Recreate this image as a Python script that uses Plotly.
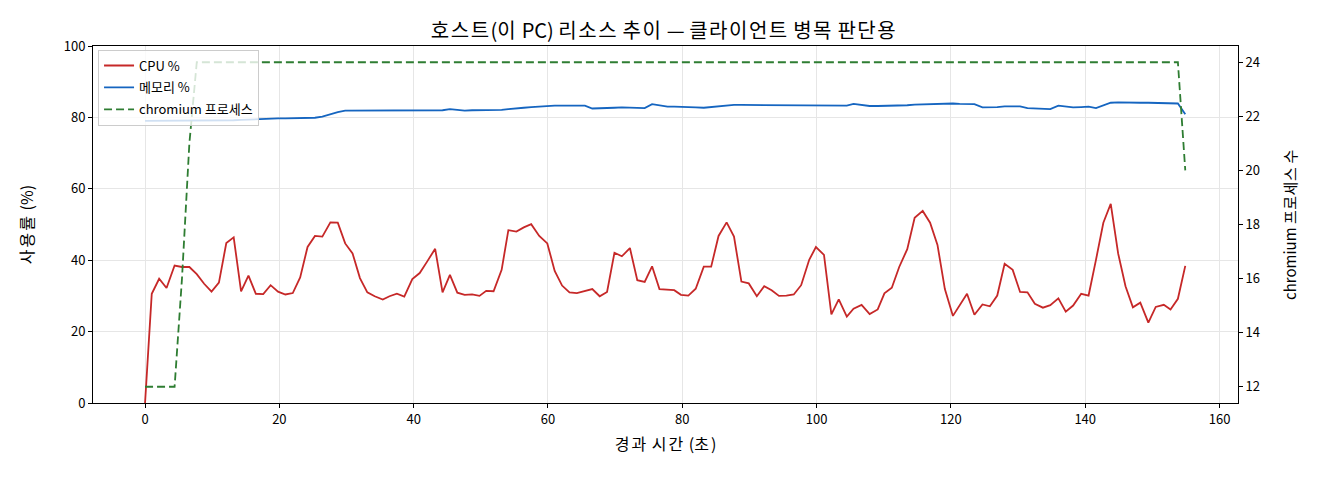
import re
import plotly.graph_objects as go

# 경과 시간 (초)
elapsed = [0.0, 1.0, 2.1, 3.2, 4.4, 5.5, 6.6, 7.7, 8.8, 9.9,
           11.0, 12.1, 13.2, 14.3, 15.4, 16.5, 17.6, 18.7, 19.8, 20.9,
           22.0, 23.1, 24.2, 25.3, 26.4, 27.6, 28.7, 29.8, 30.9, 32.0,
           33.1, 34.2, 35.4, 36.4, 37.5, 38.6, 39.8, 40.9, 42.0, 43.2,
           44.3, 45.4, 46.5, 47.6, 48.7, 49.8, 50.8, 51.9, 53.1, 54.1,
           55.3, 56.4, 57.5, 58.7, 59.9, 61.0, 62.1, 63.2, 64.3, 65.5,
           66.6, 67.7, 68.8, 69.9, 71.0, 72.2, 73.3, 74.4, 75.5, 76.6,
           77.8, 78.8, 79.8, 80.9, 82.0, 83.2, 84.3, 85.4, 86.6, 87.7,
           88.8, 89.9, 91.1, 92.2, 93.3, 94.4, 95.5, 96.6, 97.7, 98.9,
           99.9, 101.1, 102.2, 103.3, 104.5, 105.5, 106.7, 107.9, 109.1, 110.1,
           111.2, 112.3, 113.5, 114.6, 115.8, 116.9, 118.0, 119.1, 120.3, 121.3,
           122.4, 123.5, 124.7, 125.8, 126.9, 128.0, 129.2, 130.3, 131.4, 132.5,
           133.7, 134.8, 136.0, 137.1, 138.2, 139.4, 140.5, 141.6, 142.7, 143.8,
           144.9, 146.0, 147.1, 148.2, 149.4, 150.5, 151.7, 152.7, 153.8, 154.9]

cpu = [0.0, 30.6, 34.8, 32.2, 38.5, 38.1, 38.1, 36.1, 33.4, 31.2,
       33.7, 44.8, 46.4, 31.3, 35.7, 30.6, 30.5, 33.0, 31.2, 30.4,
       30.8, 35.2, 43.7, 46.8, 46.6, 50.6, 50.5, 44.7, 41.9, 35.0,
       31.0, 29.9, 29.0, 29.9, 30.6, 29.8, 34.7, 36.4, 39.6, 43.2,
       31.0, 35.9, 30.9, 30.3, 30.4, 30.0, 31.4, 31.3, 37.3, 48.4,
       48.0, 49.2, 50.1, 46.8, 44.7, 37.0, 32.9, 31.0, 30.8, 31.4,
       31.9, 29.9, 31.1, 42.1, 41.1, 43.4, 34.4, 33.9, 38.3, 31.9,
       31.8, 31.6, 30.3, 30.1, 32.0, 38.2, 38.2, 46.8, 50.6, 46.6,
       34.0, 33.5, 29.9, 32.7, 31.6, 30.0, 30.1, 30.4, 33.0, 40.1,
       43.7, 41.5, 24.8, 29.0, 24.2, 26.4, 27.5, 24.9, 26.2, 30.7,
       32.3, 38.1, 43.1, 51.9, 53.8, 50.5, 44.3, 31.9, 24.4, 27.5,
       30.6, 24.7, 27.6, 27.1, 30.1, 39.0, 37.3, 31.1, 31.0, 27.8,
       26.7, 27.4, 29.3, 25.6, 27.3, 30.6, 30.1, 40.1, 50.5, 55.8,
       41.9, 32.7, 26.8, 28.1, 22.5, 26.9, 27.5, 26.2, 29.2, 38.4]

memory = [79.0, 79.0, 79.0, 79.0, 79.0, 79.0, 79.0, 79.0, 79.0, 79.0,
          79.0, 79.0, 79.2, 79.3, 79.4, 79.6, 79.7, 79.7, 79.7, 79.7,
          79.7, 79.7, 79.7, 79.9, 80.2, 80.9, 81.5, 81.9, 81.9, 81.9,
          81.9, 81.9, 81.9, 81.9, 81.9, 81.9, 81.9, 81.9, 81.9, 81.9,
          82.0, 82.3, 82.0, 81.9, 82.0, 82.0, 82.1, 82.1, 82.1, 82.3,
          82.4, 82.7, 82.9, 83.1, 83.3, 83.3, 83.3, 83.3, 83.3, 83.3,
          82.5, 82.5, 82.6, 82.7, 82.8, 82.7, 82.6, 82.6, 83.7, 83.3,
          83.0, 83.0, 83.0, 83.0, 82.8, 82.7, 82.9, 83.2, 83.4, 83.5,
          83.5, 83.5, 83.5, 83.5, 83.5, 83.5, 83.5, 83.5, 83.5, 83.5,
          83.5, 83.4, 83.3, 83.3, 83.3, 83.8, 83.5, 83.2, 83.2, 83.2,
          83.2, 83.2, 83.4, 83.6, 83.7, 83.8, 83.9, 83.9, 83.9, 83.8,
          83.7, 83.7, 82.8, 82.8, 82.9, 83.1, 83.2, 83.1, 82.6, 82.5,
          82.4, 82.3, 83.3, 83.0, 82.8, 82.9, 83.0, 82.6, 83.3, 84.1,
          84.2, 84.1, 84.1, 84.1, 84.1, 84.1, 84.0, 84.0, 83.9, 80.9]

chromium = [12, 12, 12, 12, 12, 16, 21] + [24] * 132 + [20]

FONT = "Noto Sans CJK KR"


def kr(text, spacing):
    # 원본 폰트는 한글 폭이 조금 넓어서 letter-spacing으로 살짝 맞춘다
    return re.sub(r"([\uac00-\ud7a3]+)",
                  lambda m: f'<span style="letter-spacing:{spacing}px">{m.group(1)}</span>',
                  text)


fig = go.Figure()
fig.add_trace(go.Scatter(x=elapsed, y=cpu, mode="lines", name="CPU %",
                         legendgroup="cpu",
                         line=dict(color="#c62828", width=1.8)))
fig.add_trace(go.Scatter(x=elapsed, y=memory, mode="lines", name="메모리 %",
                         legendgroup="mem",
                         line=dict(color="#1565c0", width=1.8)))
fig.add_trace(go.Scatter(x=elapsed, y=chromium, mode="lines",
                         name="chromium 프로세스", legendgroup="proc",
                         yaxis="y2",
                         line=dict(color="#2e7d32", width=1.8, dash="8px,4px")))

axis_common = dict(showline=True, linecolor="black", linewidth=1,
                   ticks="outside", ticklen=4, tickcolor="black",
                   tickfont=dict(size=13, color="black"), zeroline=False)

fig.update_layout(
    width=1312, height=472,
    margin=dict(l=85, r=82, t=38, b=77),
    paper_bgcolor="white", plot_bgcolor="white",
    font=dict(family=FONT, color="black"),
    title=dict(text=kr("호스트(이 PC) 리소스 추이 — 클라이언트 병목 판단용", 1.5),
               x=0.5, xanchor="center", y=0.952, yanchor="middle",
               font=dict(size=20)),
    xaxis=dict(axis_common, range=[-7.75, 162.75], tick0=0, dtick=20,
               mirror=True, showgrid=True, gridcolor="#e6e6e6",
               title=dict(text=kr("경과 시간 (초)", 2), font=dict(size=16), standoff=12)),
    yaxis=dict(axis_common, range=[0, 100], tick0=0, dtick=20,
               showgrid=True, gridcolor="#e6e6e6",
               title=dict(text=kr("사용률 (%)", 2), font=dict(size=16), standoff=26)),
    yaxis2=dict(axis_common, overlaying="y", side="right",
                range=[11.4, 24.6], tick0=12, dtick=2, showgrid=False,
                title=dict(text=kr("chromium 프로세스 수", 0.5),
                           font=dict(size=15), standoff=26)),
    legend=dict(x=0.0044, y=0.99, xanchor="left", yanchor="top",
                bgcolor="rgba(255,255,255,0.8)", bordercolor="#cccccc",
                borderwidth=1, font=dict(size=13), tracegroupgap=2),
    showlegend=True,
)

fig.write_html("out.html")
